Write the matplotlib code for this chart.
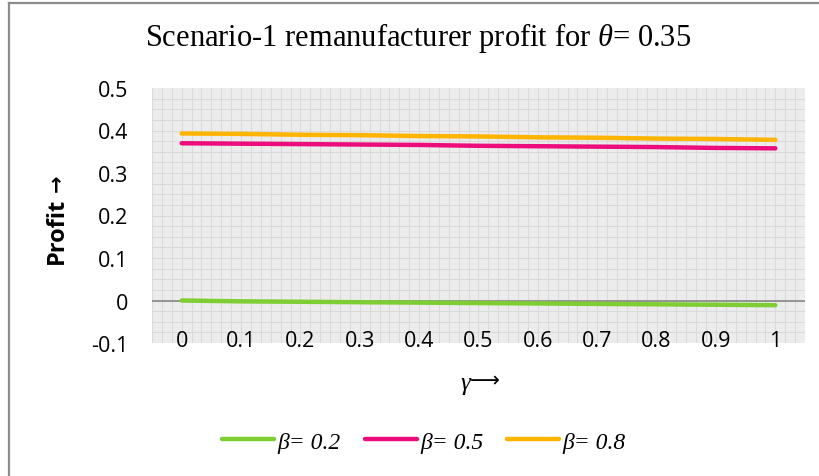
import matplotlib
matplotlib.use("Agg")
import numpy as np
import matplotlib.pyplot as plt
from matplotlib.lines import Line2D

plt.rcParams['mathtext.fontset'] = 'custom'
plt.rcParams['mathtext.rm'] = 'Liberation Serif'
plt.rcParams['mathtext.it'] = 'Liberation Serif:italic'

# remanufacturer profit vs gamma, theta = 0.35
gamma = [0, 0.1, 0.2, 0.3, 0.4, 0.5, 0.6, 0.7, 0.8, 0.9, 1]
gamma_labels = ['0', '0.1', '0.2', '0.3', '0.4', '0.5', '0.6', '0.7', '0.8', '0.9', '1']
profit_b02 = [0.000, -0.002, -0.003, -0.004, -0.005, -0.006, -0.007, -0.008, -0.009, -0.010, -0.011]
profit_b05 = [0.370, 0.369, 0.368, 0.367, 0.366, 0.364, 0.363, 0.362, 0.361, 0.359, 0.358]
profit_b08 = [0.393, 0.392, 0.390, 0.389, 0.387, 0.386, 0.384, 0.383, 0.381, 0.380, 0.378]
series_labels = ['β= 0.2', 'β= 0.5', 'β= 0.8']
y_ticks = [-0.1, 0, 0.1, 0.2, 0.3, 0.4, 0.5]
y_tick_labels = ['-0.1', '0', '0.1', '0.2', '0.3', '0.4', '0.5']

colors = ['#7dcd33', '#ec0c7c', '#ffb400']
W, H = 820, 477
tick_font = dict(family='Open Sans', fontsize=15.5)

fig = plt.figure(figsize=(W / 100, H / 100), dpi=100)
ax = fig.add_axes([152 / W, (H - 344) / H, 653 / W, 255 / H])

# small-grid pattern fill behind the plot
ax.set_facecolor('#ececec')
ax.vlines(np.arange(-0.05, 1.05, 1 / 60), -0.1, 0.5, color='#dadada', linewidth=0.8, zorder=0.5)
ax.hlines(np.arange(-0.1, 0.5, 0.025), -0.05, 1.05, color='#dadada', linewidth=0.8, zorder=0.5)

ax.axhline(0, color='#878787', linewidth=1.2, zorder=2)

handles = []
for vals, c, lab in zip([profit_b02, profit_b05, profit_b08], colors, series_labels):
    ln, = ax.plot(gamma, vals, color=c, linewidth=3.2, solid_capstyle='round',
                  label=lab, zorder=3)
    handles.append(ln)

ax.set_xlim(-0.05, 1.05)
ax.set_ylim(-0.1, 0.5)
ax.set_xticks(gamma)
ax.set_xticklabels(gamma_labels, **tick_font)
ax.set_yticks(y_ticks)
ax.set_yticklabels(y_tick_labels, **tick_font)
ax.tick_params(length=0)
ax.tick_params(axis='x', pad=-9.5)
ax.tick_params(axis='y', pad=17)
for s in ax.spines.values():
    s.set_visible(False)

fig.text(418 / W, 1 - 38 / H, r'Scenario-1 remanufacturer profit for $\theta$= 0.35',
         family='Liberation Serif', fontsize=22, ha='center', va='center')
# x-axis label: italic gamma followed by a long arrow
fig.text(470 / W, 1 - 384 / H, 'γ', family='Liberation Serif', style='italic',
         fontsize=18, ha='right', va='center')
fig.text(470 / W, 1 - 381 / H, '⟶', family='DejaVu Sans',
         fontsize=15, ha='left', va='center')
# y-axis label, with a heavier arrow on top
fig.text(57 / W, 1 - 198 / H, 'Profit', family='Open Sans',
         fontweight='bold', fontsize=17, rotation=90, ha='center', va='top')
fig.text(57 / W, 1 - 192 / H, '→', family='DejaVu Sans',
         fontweight='bold', fontsize=15, rotation=90, ha='center', va='bottom')

fig.legend(handles=handles, loc='center', bbox_to_anchor=(424 / W, 1 - 443 / H),
           ncol=3, frameon=False, handlelength=2.2, handletextpad=0.15,
           columnspacing=1.0, prop={'family': 'Liberation Serif', 'style': 'italic', 'size': 17})

# chart area border
fig.add_artist(Line2D([8.5 / W, 8.5 / W], [0, 1 - 4 / H], color='#8c8c8c', linewidth=1.6))
fig.add_artist(Line2D([8.5 / W, 1], [1 - 4 / H, 1 - 4 / H], color='#8c8c8c', linewidth=1.6))

fig.savefig('out.png', dpi=100)
